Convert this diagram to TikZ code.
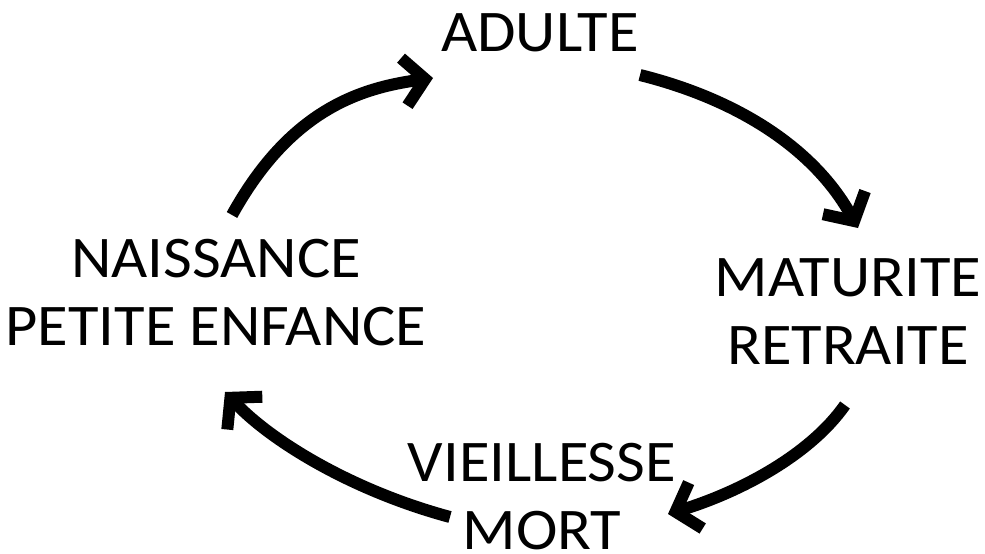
\documentclass[tikz,border=0pt]{standalone}
\usepackage{fontspec}
\setmainfont{Carlito}[FakeStretch=1.06]
\usetikzlibrary{arrows.meta}
\begin{document}
\begin{tikzpicture}[x=1pt,y=-1pt,
  stage/.style={inner sep=0pt, align=center, font=\fontsize{59}{68}\selectfont},
  cycle/.style={line width=12pt, line cap=butt,
    -{Straight Barb[length=21pt,width=48pt,line join=miter]}}]
\useasboundingbox (0,0) rectangle (985,554);
% life stages
\node[stage] (adulte) at (540,33) {ADULTE};
\node[stage] (naissance) at (216,293) {NAISSANCE\\PETITE ENFANCE};
\node[stage] (maturite) at (848,312) {MATURITE\\RETRAITE};
\node[stage] (vieillesse) at (542,497) {VIEILLESSE\\MORT};
% arrow ends
\coordinate (a1s) at (232,215);
\coordinate (a1e) at (433,78);
\coordinate (a2s) at (640,75);
\coordinate (a2e) at (858,228);
\coordinate (a3s) at (845,405);
\coordinate (a3e) at (668,514);
\coordinate (a4s) at (450,517);
\coordinate (a4e) at (225,392);
% cycle arrows
\draw[cycle] (a1s) .. controls (290,110) and (360,88) .. (a1e);
\draw[cycle] (a2s) .. controls (740,100) and (815,150) .. (a2e);
\draw[cycle] (a3s) .. controls (810,455) and (740,492) .. (a3e);
\draw[cycle] (a4s) .. controls (350,490) and (270,440) .. (a4e);
\end{tikzpicture}
\end{document}
